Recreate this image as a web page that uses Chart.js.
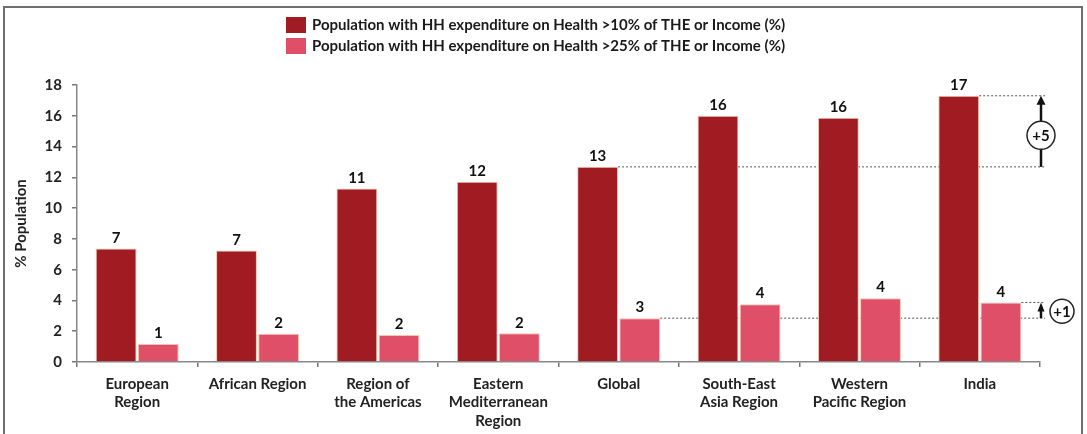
<!DOCTYPE html>
<html>
<head>
<meta charset="utf-8">
<script src="https://cdn.jsdelivr.net/npm/chart.js@4.4.1/dist/chart.umd.min.js"></script>
<style>
  html, body { margin: 0; padding: 0; background: #fff; }
  #wrap { width: 1087px; height: 434px; }
</style>
</head>
<body>
<div id="wrap"><canvas id="BarChart" width="1087" height="434"></canvas></div>
<script>
var regions = [
  ["European", "Region"],
  "African Region",
  ["Region of", "the Americas"],
  ["Eastern", "Mediterranean", "Region"],
  "Global",
  ["South-East", "Asia Region"],
  ["Western", "Pacific Region"],
  "India"
];
var over10 = [7.37, 7.24, 11.28, 11.72, 12.68, 16.0, 15.87, 17.3];
var over25 = [1.17, 1.83, 1.76, 1.87, 2.85, 3.76, 4.15, 3.87];
var seriesNames = [
  "Population with HH expenditure on Health >10% of THE or Income (%)",
  "Population with HH expenditure on Health >25% of THE or Income (%)"
];
var yTicks = [0, 2, 4, 6, 8, 10, 12, 14, 16, 18];

var barColors = ["#a01c22", "#df5068"];
var FONT = "Lato, 'Open Sans', sans-serif";
var configBar;

// frame + legend drawn by hand (two stacked rows like the original)
const framePlugin = {
  id: "frame",
  beforeDraw(chart) {
    const ctx = chart.ctx;
    ctx.save();
    ctx.strokeStyle = "#6e6e6e";
    ctx.lineWidth = 2;
    ctx.beginPath();
    ctx.moveTo(4, 440);
    ctx.lineTo(4, 7);
    ctx.lineTo(1082, 7);
    ctx.lineTo(1082, 440);
    ctx.stroke();

    ctx.font = "bold 15px " + FONT;
    ctx.textBaseline = "middle";
    ctx.textAlign = "left";
    for (let i = 0; i < seriesNames.length; i++) {
      const y = 17 + i * 21;
      ctx.fillStyle = barColors[i];
      ctx.fillRect(286, y, 20, 16);
      ctx.fillStyle = "#1a1a1a";
      ctx.fillText(seriesNames[i], 312, y + 8.5);
    }
    ctx.restore();
  }
};

function dotted(ctx, x1, x2, y) {
  ctx.beginPath();
  ctx.moveTo(x1, y);
  ctx.lineTo(x2, y);
  ctx.stroke();
}

function arrowUp(ctx, x, yFrom, yTo, w) {
  ctx.beginPath();
  ctx.moveTo(x, yFrom);
  ctx.lineTo(x, yTo + 6);
  ctx.stroke();
  ctx.beginPath();
  ctx.moveTo(x, yTo);
  ctx.lineTo(x - w, yTo + 9);
  ctx.lineTo(x + w, yTo + 9);
  ctx.closePath();
  ctx.fill();
}

function circleText(ctx, x, y, r, txt) {
  ctx.beginPath();
  ctx.arc(x, y, r, 0, Math.PI * 2);
  ctx.fillStyle = "#fff";
  ctx.fill();
  ctx.lineWidth = 1.5;
  ctx.strokeStyle = "#222";
  ctx.stroke();
  ctx.fillStyle = "#111";
  ctx.font = "bold 15px " + FONT;
  ctx.textAlign = "center";
  ctx.textBaseline = "middle";
  ctx.fillText(txt, x, y + 1);
}

// Global vs India gap lines (behind bars) and arrows
const gapPlugin = {
  id: "gap",
  beforeDatasetsDraw(chart) {
    const ctx = chart.ctx;
    const ys = chart.scales.y;
    const g = 4, ind = 7;
    const m0 = chart.getDatasetMeta(0), m1 = chart.getDatasetMeta(1);
    const xEnd = chart.chartArea.right + 5;
    ctx.save();
    ctx.strokeStyle = "#555";
    ctx.lineWidth = 1;
    ctx.setLineDash([2, 2]);
    dotted(ctx, m0.data[g].x + m0.data[g].width / 2, xEnd, ys.getPixelForValue(over10[g]));
    dotted(ctx, m0.data[ind].x + m0.data[ind].width / 2, xEnd, ys.getPixelForValue(over10[ind]));
    dotted(ctx, m1.data[g].x + m1.data[g].width / 2, xEnd, ys.getPixelForValue(over25[g]));
    dotted(ctx, m1.data[ind].x + m1.data[ind].width / 2, xEnd, ys.getPixelForValue(over25[ind]));
    ctx.restore();
  },
  afterDatasetsDraw(chart) {
    const ctx = chart.ctx;
    const ys = chart.scales.y;
    const g = 4, ind = 7;
    const ax = chart.chartArea.right + 1;
    ctx.save();
    ctx.strokeStyle = "#111";
    ctx.fillStyle = "#111";
    ctx.lineWidth = 2.5;
    const a1 = ys.getPixelForValue(over10[g]), a2 = ys.getPixelForValue(over10[ind]);
    arrowUp(ctx, ax, a1, a2, 4.5);
    circleText(ctx, ax, (a1 + a2) / 2 + 4, 14, "+" + Math.round(over10[ind] - over10[g]));
    ctx.strokeStyle = "#111";
    ctx.fillStyle = "#111";
    ctx.lineWidth = 2.5;
    const b1 = ys.getPixelForValue(over25[g]), b2 = ys.getPixelForValue(over25[ind]);
    arrowUp(ctx, ax, b1, b2, 3.5);
    circleText(ctx, ax + 21, (b1 + b2) / 2 + 1, 12, "+" + Math.round(over25[ind] - over25[g]));
    ctx.restore();
  }
};

// value labels on top of each bar
const valuePlugin = {
  id: "vals",
  afterDatasetsDraw(chart) {
    const ctx = chart.ctx;
    ctx.save();
    ctx.font = "bold 15px " + FONT;
    ctx.fillStyle = "#111";
    ctx.textAlign = "center";
    ctx.textBaseline = "bottom";
    chart.data.datasets.forEach(function (ds, i) {
      chart.getDatasetMeta(i).data.forEach(function (bar, j) {
        ctx.fillText(Math.round(ds.data[j]), bar.x, bar.y - 3);
      });
    });
    ctx.restore();
  }
};

function Barchart() {
  const data = {
    labels: regions,
    datasets: [
      {
        label: seriesNames[0],
        data: over10,
        backgroundColor: barColors[0],
        borderColor: "#f4c6b0",
        borderWidth: 1
      },
      {
        label: seriesNames[1],
        data: over25,
        backgroundColor: barColors[1],
        borderColor: "#f4c6b0",
        borderWidth: 1
      }
    ]
  };

  configBar = {
    type: "bar",
    data: data,
    options: {
      responsive: false,
      animation: false,
      events: [],
      layout: { padding: { left: 6, right: 47, top: 85, bottom: 0 } },
      datasets: {
        bar: { categoryPercentage: 0.7, barPercentage: 0.97 }
      },
      plugins: {
        legend: { display: false },
        tooltip: { enabled: false }
      },
      scales: {
        x: {
          grid: {
            display: true,
            drawOnChartArea: false,
            offset: true,
            tickLength: 5,
            color: "#777",
            lineWidth: 1.5
          },
          border: { color: "#888", width: 1.5 },
          ticks: {
            color: "#222",
            font: { family: FONT, size: 15, weight: "bold", lineHeight: 1.22 },
            maxRotation: 0,
            autoSkip: false,
            padding: 8
          },
          afterFit: function (s) { s.height = 72; }
        },
        y: {
          min: 0,
          max: 18,
          afterBuildTicks: function (s) {
            s.ticks = yTicks.map(function (v) { return { value: v }; });
          },
          grid: {
            display: true,
            drawOnChartArea: false,
            tickLength: 5,
            color: "#777",
            lineWidth: 1.5
          },
          border: { color: "#888", width: 1.5 },
          ticks: {
            color: "#222",
            font: { family: FONT, size: 15, weight: "bold" },
            padding: 10
          },
          title: {
            display: true,
            text: "% Population",
            color: "#222",
            font: { family: FONT, size: 15, weight: "bold" },
            padding: { top: 6, bottom: 0 }
          },
          afterFit: function (s) { s.width = 71; }
        }
      }
    },
    plugins: [framePlugin, gapPlugin, valuePlugin]
  };

  showBarchart();
}

function showBarchart() {
  const ctxBar = document.getElementById("BarChart");
  let chart = Chart.getChart(ctxBar);
  if (chart) {
    chart.destroy();
  }
  chart = new Chart(ctxBar, configBar);
}

Barchart();
</script>
</body>
</html>
